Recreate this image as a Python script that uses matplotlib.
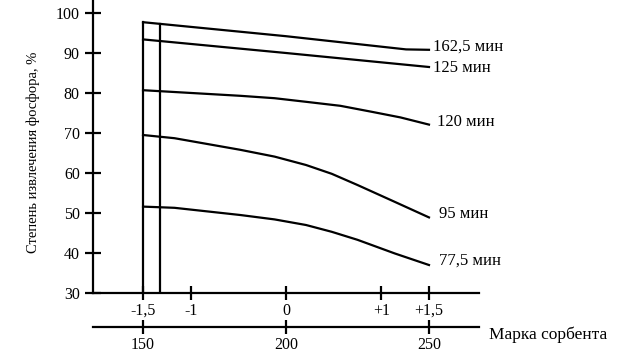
import matplotlib.pyplot as plt

plt.rcParams['font.family'] = ['Liberation Serif', 'DejaVu Serif']

# марка сорбента (нижняя шкала) и кодированные значения (верхняя шкала)
marks = [150, 200, 250]
coded = [-1.5, -1, 0, 1, 1.5]
coded_labels = ["-1,5", "-1", "0", "+1", "+1,5"]

# кривые: время -> (марка, степень извлечения)
x_1625 = [150, 200, 242, 250]
y_1625 = [97.7, 94.2, 90.9, 90.8]

x_125 = [150, 200, 250]
y_125 = [93.4, 90.0, 86.5]

x_120 = [150, 184, 196, 207, 219, 230, 240, 250]
y_120 = [80.7, 79.3, 78.7, 77.8, 76.8, 75.3, 73.9, 72.1]

x_95 = [150, 161, 184, 196, 207, 216, 225, 238, 250]
y_95 = [69.5, 68.7, 65.8, 64.1, 62.0, 59.8, 57.0, 52.8, 48.9]

x_775 = [150, 161, 184, 196, 207, 216, 225, 238, 250]
y_775 = [51.6, 51.3, 49.5, 48.4, 47.0, 45.3, 43.3, 39.9, 37.0]

curves = [
    (x_1625, y_1625, "162,5 мин", 251.4, 91.5),
    (x_125, y_125, "125 мин", 251.4, 86.3),
    (x_120, y_120, "120 мин", 252.8, 72.8),
    (x_95, y_95, "95 мин", 253.5, 49.8),
    (x_775, y_775, "77,5 мин", 253.5, 38.0),
]

guide_x = [150, 156]
guide_top = [97.7, 97.3]

fig = plt.figure(figsize=(6.23, 3.59), dpi=100)
ax = fig.add_axes([0.1493, 0.1838, 0.6196, 0.8162])

lw = 1.6
fs = 11.5
for xs, ys, name, lx, ly in curves:
    ax.plot(xs, ys, color='black', lw=lw)
    ax.text(lx, ly, name, fontsize=12, va='center', ha='left')

for gx, gt in zip(guide_x, guide_top):
    ax.plot([gx, gx], [30, gt], color='black', lw=lw)

ax.set_xlim(132.5, 267.5)
ax.set_ylim(30, 103.25)

ax.spines['top'].set_visible(False)
ax.spines['right'].set_visible(False)
ax.spines['left'].set_linewidth(lw)
ax.spines['bottom'].set_linewidth(lw)

ax.set_yticks(range(30, 101, 10))
ax.tick_params(axis='y', direction='inout', length=11, width=lw, labelsize=fs, pad=4)
ax.set_xticks([200 + c * 100 / 3 for c in coded])
ax.set_xticklabels(coded_labels)
ax.tick_params(axis='x', direction='inout', length=10, width=lw, labelsize=fs, pad=2)

ax.set_ylabel("Степень извлечения фосфора, %", fontsize=10.5)
ax.yaxis.set_label_coords(-0.137, 0.481)

sec = ax.secondary_xaxis(-0.116)
sec.set_xticks(marks)
sec.spines['bottom'].set_linewidth(lw)
sec.tick_params(axis='x', direction='inout', length=10, width=lw, labelsize=fs, pad=2)

fig.text(489 / 623, 1 - 335 / 359, "Марка сорбента", fontsize=12.5, va='center', ha='left')

fig.savefig("out.png", dpi=100)
